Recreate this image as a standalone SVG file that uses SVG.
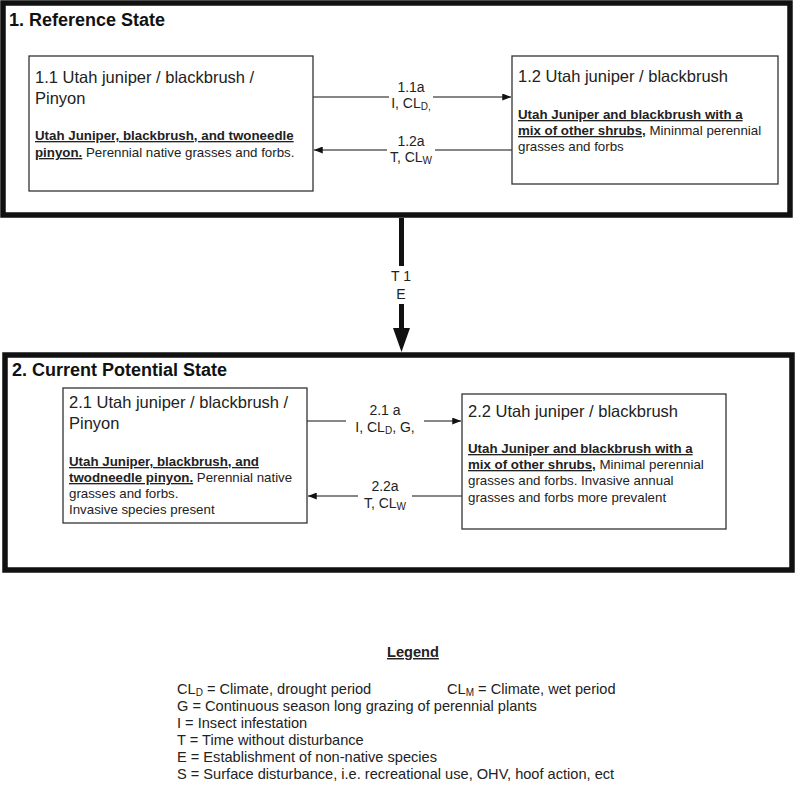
<svg xmlns="http://www.w3.org/2000/svg" width="800" height="789" viewBox="0 0 800 789">
<style>
text{font-family:"Liberation Sans",Arial,sans-serif;fill:#222}
.title{font-size:18px;font-weight:bold;fill:#111}
.head{font-size:16.5px}
.b{font-size:13.3px;font-weight:bold;text-decoration:underline}
.t{font-size:13.3px}
.lbl{font-size:14px;text-anchor:middle}
.sub{font-size:10px}
.state{fill:none;stroke:#111;stroke-width:5.5}
.box{fill:#fff;stroke:#333;stroke-width:1.3}
.con{stroke:#111;stroke-width:1.2;fill:none}
.leg{font-size:14.6px}
</style>
<defs>
<marker id="ah" viewBox="0 0 10 8" refX="10" refY="4" markerWidth="11" markerHeight="7" markerUnits="userSpaceOnUse" orient="auto">
<path d="M0,0 L10,4 L0,8 Z" fill="#111"/>
</marker>
</defs>
<rect width="800" height="789" fill="#fff"/>

<g id="state1">
<rect class="state" x="3" y="3" width="787" height="212"/>
<text class="title" x="9" y="26">1. Reference State</text>
</g>
<g id="state2">
<rect class="state" x="5" y="355" width="787" height="215"/>
<text class="title" x="12" y="376">2. Current Potential State</text>
</g>

<g id="connectors">
<line class="con" x1="313" y1="97" x2="511" y2="97" marker-end="url(#ah)"/>
<line class="con" x1="512" y1="150" x2="314" y2="150" marker-end="url(#ah)"/>
<line class="con" x1="307" y1="421" x2="461" y2="421" marker-end="url(#ah)"/>
<line class="con" x1="462" y1="496" x2="308" y2="496" marker-end="url(#ah)"/>
<line x1="401.5" y1="218" x2="401.5" y2="332" stroke="#111" stroke-width="5"/>
<polygon points="393,328 410,328 401.5,352" fill="#111"/>
<rect x="386" y="266" width="31" height="38" fill="#fff"/>
<text class="lbl" x="401" y="281">T 1</text>
<text class="lbl" x="401" y="299">E</text>

<rect x="389" y="78" width="44" height="30" fill="#fff"/>
<text class="lbl" x="411" y="92">1.1a</text>
<text class="lbl" x="411" y="108">I, CL<tspan class="sub" dy="2">D,</tspan></text>
<rect x="387" y="131" width="48" height="30" fill="#fff"/>
<text class="lbl" x="411" y="146">1.2a</text>
<text class="lbl" x="411" y="162">T, CL<tspan class="sub" dy="2">W</tspan></text>

<rect x="346" y="402" width="78" height="30" fill="#fff"/>
<text class="lbl" x="385" y="415">2.1 a</text>
<text class="lbl" x="385" y="432">I, CL<tspan class="sub" dy="2">D</tspan><tspan dy="-2">, G,</tspan></text>
<rect x="358" y="477" width="54" height="30" fill="#fff"/>
<text class="lbl" x="385" y="491">2.2a</text>
<text class="lbl" x="385" y="508">T, CL<tspan class="sub" dy="2">W</tspan></text>
</g>

<g id="n11">
<rect class="box" x="29" y="56" width="284" height="135"/>
<text class="head" x="35" y="83">1.1 Utah juniper / blackbrush /</text>
<text class="head" x="35" y="104">Pinyon</text>
<text class="b" x="35" y="140">Utah Juniper, blackbrush, and twoneedle</text>
<text class="t" x="35" y="157"><tspan class="b">pinyon.</tspan> Perennial native grasses and forbs.</text>
</g>

<g id="n12">
<rect class="box" x="512" y="56" width="266" height="128"/>
<text class="head" x="518" y="82">1.2 Utah juniper / blackbrush</text>
<text class="b" x="518" y="119">Utah Juniper and blackbrush with a</text>
<text class="t" x="518" y="135"><tspan class="b">mix of other shrubs,</tspan> Mininmal perennial</text>
<text class="t" x="518" y="151">grasses and forbs</text>
</g>

<g id="n21">
<rect class="box" x="63" y="388" width="244" height="135"/>
<text class="head" x="69" y="408">2.1 Utah juniper / blackbrush /</text>
<text class="head" x="69" y="429">Pinyon</text>
<text class="b" x="69" y="466">Utah Juniper, blackbrush, and</text>
<text class="t" x="69" y="482"><tspan class="b">twodneedle pinyon.</tspan> Perennial native</text>
<text class="t" x="69" y="498">grasses and forbs.</text>
<text class="t" x="69" y="514">Invasive species present</text>
</g>

<g id="n22">
<rect class="box" x="462" y="394" width="264" height="135"/>
<text class="head" x="468" y="417">2.2 Utah juniper / blackbrush</text>
<text class="b" x="468" y="453">Utah Juniper and blackbrush with a</text>
<text class="t" x="468" y="469"><tspan class="b">mix of other shrubs,</tspan> Minimal  perennial</text>
<text class="t" x="468" y="485">grasses and forbs. Invasive annual</text>
<text class="t" x="468" y="502">grasses and forbs more prevalent</text>
</g>

<g id="legend">
<text class="leg" x="413" y="657" text-anchor="middle" font-weight="bold" text-decoration="underline">Legend</text>
<text class="leg" x="177" y="694">CL<tspan class="sub" font-size="10.5" dy="2">D</tspan><tspan dy="-2"> = Climate, drought period</tspan></text>
<text class="leg" x="447" y="694">CL<tspan class="sub" font-size="10.5" dy="2">M</tspan><tspan dy="-2"> = Climate, wet period</tspan></text>
<text class="leg" x="177" y="711">G = Continuous season long grazing of perennial plants</text>
<text class="leg" x="177" y="728">I = Insect infestation</text>
<text class="leg" x="177" y="745">T = Time without disturbance</text>
<text class="leg" x="177" y="762">E = Establishment of non-native species</text>
<text class="leg" x="177" y="779">S = Surface disturbance, i.e. recreational use, OHV, hoof action, ect</text>
</g>
</svg>
